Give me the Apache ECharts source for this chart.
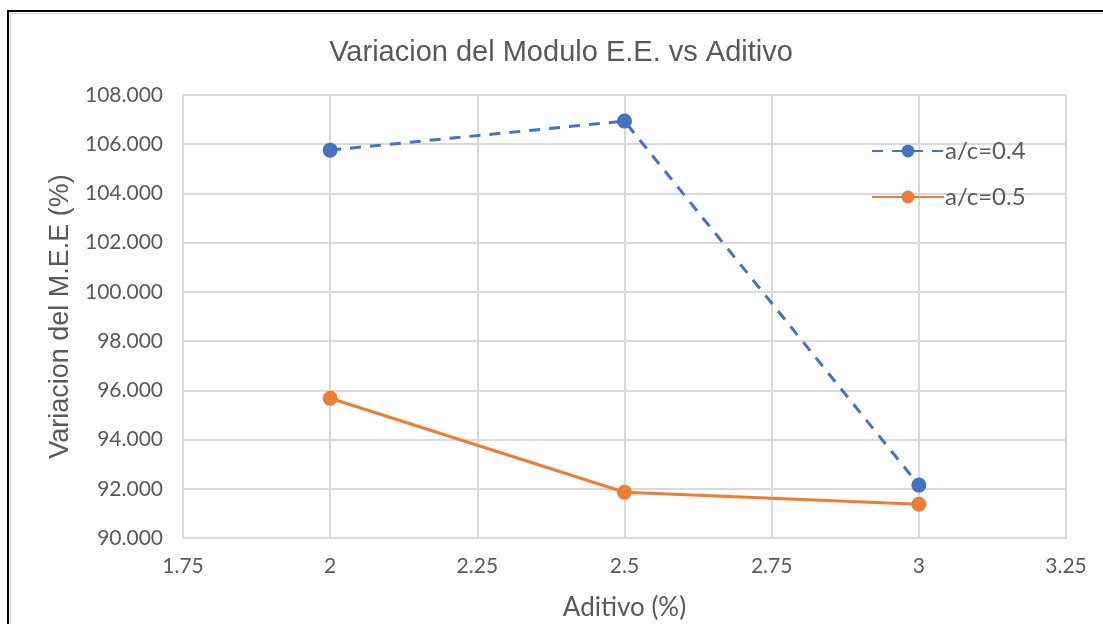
<!DOCTYPE html>
<html><head><meta charset="utf-8">
<script src="https://cdn.jsdelivr.net/npm/echarts@6/dist/echarts.min.js"></script>
<style>html,body{margin:0;padding:0;background:#fff;}#c{width:1103px;height:624px;}</style>
</head><body><div id="c"></div>
<script>
const titleText = 'Variacion del Modulo E.E. vs Aditivo';
const xName = 'Aditivo (%)';
const yName = 'Variacion del M.E.E (%)';
const xValues = [2, 2.5, 3];
const seriesNames = ['a/c=0.4', 'a/c=0.5'];
const s04 = [105.76, 106.94, 92.15];
const s05 = [95.68, 91.86, 91.37];
const xTicks = [1.75, 2, 2.25, 2.5, 2.75, 3, 3.25];
const yTicks = [90, 92, 94, 96, 98, 100, 102, 104, 106, 108];

const chart = echarts.init(document.getElementById('c'));
const gridColor = '#d9d9d9';
const textColor = '#595959';
chart.setOption({
  animation: false,
  backgroundColor: '#fff',
  graphic: [
    {type: 'rect', shape: {x: 8, y: 11, width: 1200, height: 700}, style: {fill: 'none', stroke: '#000', lineWidth: 2}, z: 100},
    {type: 'rect', shape: {x: 10.5, y: 13.5, width: 1200, height: 700}, style: {fill: 'none', stroke: '#d0d0d0', lineWidth: 1}, z: 100}
  ],
  title: {
    text: titleText, left: 556, top: 33, textAlign: 'center',
    textStyle: {fontFamily: 'Liberation Sans', fontSize: 29, fontWeight: 'normal', color: textColor}
  },
  legend: {
    data: seriesNames,
    orient: 'vertical',
    left: 866, top: 134,
    itemWidth: 72, itemHeight: 16, itemGap: 22,
    textStyle: {fontFamily: 'Lato', fontSize: 24, color: textColor, padding: [0, 0, 0, -4]}
  },
  grid: {left: 183, right: 37, top: 95, bottom: 86, outerBoundsMode: 'none', containLabel: false},
  xAxis: {
    type: 'value', min: 1.75, max: 3.25, interval: 0.25,
    name: xName, nameLocation: 'middle', nameGap: 57,
    nameTextStyle: {fontFamily: 'Lato', fontSize: 26, color: textColor},
    axisLine: {show: true, lineStyle: {color: gridColor, width: 2}},
    axisTick: {show: false},
    splitLine: {show: true, lineStyle: {color: gridColor, width: 2}},
    axisLabel: {margin: 18, fontFamily: 'Lato', fontSize: 21, color: textColor,
      formatter: v => { const t = xTicks.find(k => Math.abs(k - v) < 1e-9); return t === undefined ? '' : String(t); }}
  },
  yAxis: {
    type: 'value', min: 90, max: 108, interval: 2,
    name: yName, nameLocation: 'middle', nameGap: 106,
    nameTextStyle: {fontFamily: 'Liberation Sans', fontSize: 27, color: textColor},
    axisLine: {show: false}, axisTick: {show: false},
    splitLine: {show: true, lineStyle: {color: gridColor, width: 2}},
    axisLabel: {margin: 20, fontFamily: 'Lato', fontSize: 21, color: textColor,
      formatter: v => { const t = yTicks.find(k => Math.abs(k - v) < 1e-9); return t === undefined ? '' : t.toFixed(3); }}
  },
  series: [
    {name: seriesNames[0], type: 'line', data: xValues.map((x, i) => [x, s04[i]]),
     symbol: 'circle', symbolSize: 15, color: '#4472C4',
     lineStyle: {width: 3, type: [11, 9], color: '#4472C4'}, itemStyle: {color: '#4472C4'}},
    {name: seriesNames[1], type: 'line', data: xValues.map((x, i) => [x, s05[i]]),
     symbol: 'circle', symbolSize: 15, color: '#ED7D31',
     lineStyle: {width: 3, color: '#ED7D31'}, itemStyle: {color: '#ED7D31'}}
  ]
});
</script></body></html>
